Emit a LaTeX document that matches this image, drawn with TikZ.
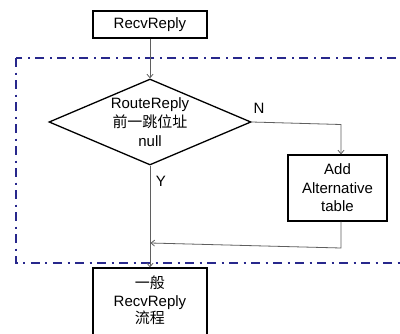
\documentclass[tikz,border=0pt]{standalone}
\usepackage{fontspec}
\setmainfont{Liberation Sans}
\newfontfamily\cjk{Noto Sans CJK SC}
\usetikzlibrary{shapes.geometric,arrows.meta}
\definecolor{frameblue}{RGB}{40,40,140}
\definecolor{linegray}{RGB}{95,95,95}
\tikzset{
  box/.style={draw=black, line width=1.3pt, align=center, inner sep=0pt,
    font=\fontsize{15}{18.5}\selectfont},
  txt/.style={align=center, inner sep=0pt, font=\fontsize{15}{19}\selectfont},
  conn/.style={draw=linegray, line width=0.8pt},
  arr/.style={conn, -{Straight Barb[length=3.5pt,width=6pt]}},
  frame/.style={draw=frameblue, line width=1.6pt,
    dash pattern=on 9pt off 5.5pt on 2pt off 5.5pt},
}
\begin{document}
\begin{tikzpicture}[x=1pt,y=-1pt]
\useasboundingbox (0,0) rectangle (400,333);
\clip (0,0) rectangle (400,333);
\fill[white] (0,0) rectangle (400,333);
% frame
\draw[frame] (16,58) rectangle (430,263);
% nodes
\node[box, minimum width=114pt, minimum height=27pt] (top) at (150,24.5) {RecvReply};
\node[diamond, draw=black, line width=1.3pt, minimum width=202pt, minimum height=86pt, inner sep=0pt] (dia) at (150,122) {};
\node[txt] (diatext) at (150,122) {RouteReply\\{\cjk 前一跳位址}\\null};
\node[box, minimum width=99pt, minimum height=66pt] (add) at (337.5,188) {Add\\Alternative\\table};
\node[box, minimum width=114pt, minimum height=90pt] (bot) at (150,313) {};
\node[txt, font=\fontsize{15}{17.5}\selectfont] (bottext) at (150,300.5) {{\cjk 一般}\\RecvReply\\{\cjk 流程}};
% labels
\node[txt] (nlab) at (259,108) {N};
\node[txt] (ylab) at (161,181) {Y};
% coordinates
\coordinate (nturn) at (341,124.5);
\coordinate (rturn) at (341,248);
\coordinate (rend) at (150.5,243);
% connectors
\draw[arr] (top.south) -- (dia.north);
\draw[arr] (dia.east) -- (nturn) -- (nturn |- add.north);
\draw[arr] (rturn |- add.south) -- (rturn) -- (rend);
\draw[arr] (dia.south) -- (bot.north);
\end{tikzpicture}
\end{document}
